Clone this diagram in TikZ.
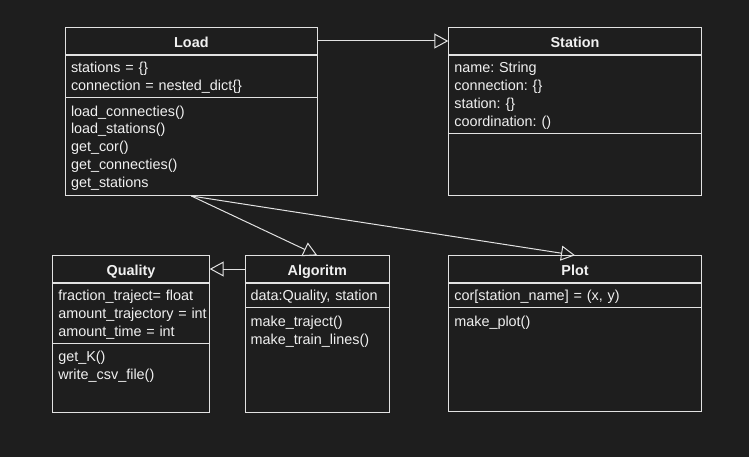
\documentclass[tikz,border=0pt]{standalone}
\usepackage{fontspec}
\setmainfont{Liberation Sans}
\usepackage{xcolor}
\usepackage{tikz}
\usetikzlibrary{shapes,arrows.meta}
\definecolor{bgcol}{HTML}{1E1E1E}
\definecolor{linecol}{HTML}{E2E2E2}
\definecolor{textcol}{HTML}{F0F0F0}
\newcommand{\rowstrut}{\rule[-3.7pt]{0pt}{17.8pt}}
\newcommand{\umlfont}{\fontsize{14.4}{17.8}\selectfont\frenchspacing}
\tikzstyle{classbox} = [rectangle, draw=linecol, line width=1pt, anchor=north west, inner sep=0pt]
\tikzstyle{classhead} = [rectangle, draw=linecol, line width=1pt, anchor=north, inner xsep=0pt,
    minimum height=26.4pt, text height=12.2pt, text depth=0pt, text=textcol, font=\umlfont\bfseries]
\tikzstyle{fields} = [rectangle, draw=linecol, line width=1pt, anchor=north, inner xsep=5.5pt, inner ysep=3.4pt,
    align=left, text=textcol, font=\umlfont, execute at begin node={\noindent\rowstrut}, execute at end node=\rowstrut]
\tikzstyle{methods} = [fields, draw=none, anchor=north west]
\tikzstyle{line} = [draw=linecol, line width=1pt, -{Triangle[open, length=14pt, width=15pt]}]

\begin{document}
\begin{tikzpicture}[x=1pt, y=-1pt]
    \fill [bgcol] (0,0) rectangle (749,457);
    % Place nodes
    \node [classbox, minimum width=251.7pt, minimum height=167.7pt] (load) at (65,27.3) {};
    \node [classhead, minimum width=251.7pt] (loadhead) at (load.north) {Load};
    \node [fields, text width=240.7pt] (loadfields) at (loadhead.south) {stations = \{\}\\connection = nested\_dict\{\}};
    \node [methods, text width=240.7pt] (loadmethods) at (loadfields.south west) {load\_connecties()\\load\_stations()\\get\_cor()\\get\_connecties()\\get\_stations};

    \node [classbox, minimum width=252.4pt, minimum height=167.7pt] (station) at (448.3,27.3) {};
    \node [classhead, minimum width=252.4pt] (stationhead) at (station.north) {Station};
    \node [fields, text width=241.4pt] (stationfields) at (stationhead.south) {name: String\\connection: \{\}\\station: \{\}\\coordination: ()};

    \node [classbox, minimum width=156.4pt, minimum height=156.4pt] (quality) at (52.3,255.3) {};
    \node [classhead, minimum width=156.4pt] (qualityhead) at (quality.north) {Quality};
    \node [fields, text width=145.4pt] (qualityfields) at (qualityhead.south) {fraction\_traject= float\\amount\_trajectory~=~int\\amount\_time = int};
    \node [methods, text width=145.4pt] (qualitymethods) at (qualityfields.south west) {get\_K()\\write\_csv\_file()};

    \node [classbox, minimum width=144pt, minimum height=156.4pt] (algoritm) at (244.7,255.3) {};
    \node [classhead, minimum width=144pt] (algoritmhead) at (algoritm.north) {Algoritm};
    \node [fields, text width=133pt] (algoritmfields) at (algoritmhead.south) {data:Quality, station};
    \node [methods, text width=133pt] (algoritmmethods) at (algoritmfields.south west) {make\_traject()\\make\_train\_lines()};

    \node [classbox, minimum width=252.4pt, minimum height=155.7pt] (plot) at (448.3,255.3) {};
    \node [classhead, minimum width=252.4pt] (plothead) at (plot.north) {Plot};
    \node [fields, text width=241.4pt] (plotfields) at (plothead.south) {cor[station\_name] = (x, y)};
    \node [methods, text width=241.4pt] (plotmethods) at (plotfields.south west) {make\_plot()};
    % Draw edges
    \path [line] (loadhead) -- (stationhead);
    \path [line] (algoritmhead) -- (qualityhead);
    \path [line] (load.south) -- (algoritm.north);
    \path [line] (load.south) -- (plot.north);
\end{tikzpicture}
\end{document}
